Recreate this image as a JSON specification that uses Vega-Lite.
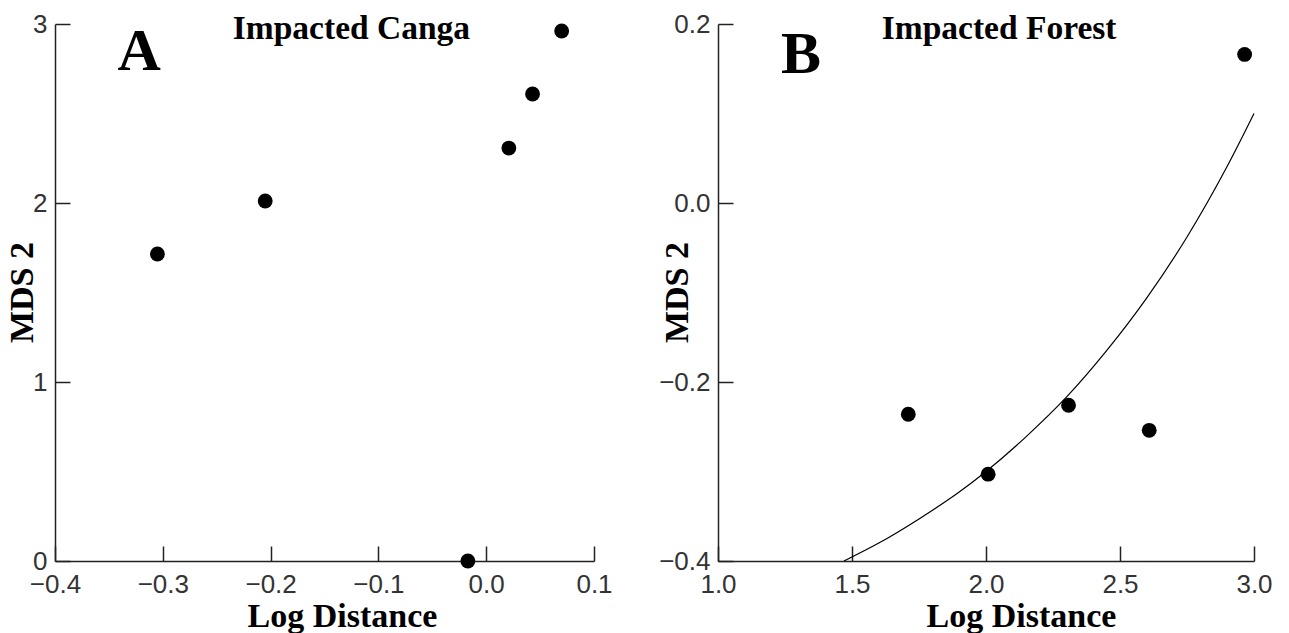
{
  "$schema": "https://vega.github.io/schema/vega-lite/v6.json",
  "background": "white",
  "padding": {"left": 5, "top": 11, "right": 0, "bottom": 0},
  "bounds": "flush",
  "spacing": 124,
  "config": {
    "view": {"stroke": null},
    "axis": {
      "grid": false,
      "domainColor": "#222",
      "domainWidth": 1.5,
      "tickColor": "#222",
      "tickWidth": 1.5,
      "tickSize": -15,
      "labelFont": "Liberation Sans",
      "labelFontSize": 26,
      "labelColor": "#333",
      "labelFlush": false,
      "labelOverlap": false,
      "titleFont": "Liberation Serif",
      "titleFontWeight": "bold",
      "titleFontSize": 34,
      "titleColor": "#000"
    },
    "axisX": {"labelPadding": 25, "titleY": 38, "titleBaseline": "top"},
    "axisY": {"labelPadding": 23, "titleAngle": -90, "titleBaseline": "alphabetic", "titleY": 268}
  },
  "hconcat": [
    {
      "width": 539,
      "height": 537,
      "layer": [
        {
          "data": {"values": [
            {"logDist": -0.305, "mds2": 1.715},
            {"logDist": -0.205, "mds2": 2.011},
            {"logDist": -0.017, "mds2": 0.0},
            {"logDist": 0.021, "mds2": 2.307},
            {"logDist": 0.043, "mds2": 2.609},
            {"logDist": 0.070, "mds2": 2.961}
          ]},
          "mark": {"type": "point", "filled": true, "color": "#000", "size": 220, "opacity": 1},
          "encoding": {
            "x": {"field": "logDist", "type": "quantitative", "scale": {"domain": [-0.4, 0.1], "nice": false, "zero": false},
                  "axis": {"values": [-0.4, -0.3, -0.2, -0.1, 0, 0.1], "format": ".1f", "title": "Log Distance", "titleX": 287}},
            "y": {"field": "mds2", "type": "quantitative", "scale": {"domain": [0, 3], "nice": false},
                  "axis": {"values": [0, 1, 2, 3], "format": "d", "title": "MDS 2", "titleX": -23}}
          }
        },
        {
          "data": {"values": [{"panel": "A", "px": -0.322, "py": 2.743}]},
          "mark": {"type": "text", "font": "Liberation Serif", "fontWeight": "bold", "fontSize": 60, "baseline": "alphabetic", "align": "center", "color": "#000"},
          "encoding": {
            "x": {"field": "px", "type": "quantitative"},
            "y": {"field": "py", "type": "quantitative"},
            "text": {"field": "panel"}
          }
        },
        {
          "data": {"values": [{"label": "Impacted Canga", "px": -0.125, "py": 2.916}]},
          "mark": {"type": "text", "font": "Liberation Serif", "fontWeight": "bold", "fontSize": 33.5, "baseline": "alphabetic", "align": "center", "color": "#000"},
          "encoding": {
            "x": {"field": "px", "type": "quantitative"},
            "y": {"field": "py", "type": "quantitative"},
            "text": {"field": "label"}
          }
        }
      ]
    },
    {
      "width": 536,
      "height": 537,
      "layer": [
        {
          "data": {"values": [
            {"logDist": 1.47, "fit": -0.400},
            {"logDist": 1.6, "fit": -0.380},
            {"logDist": 1.75, "fit": -0.353},
            {"logDist": 1.9, "fit": -0.323},
            {"logDist": 2.0, "fit": -0.300},
            {"logDist": 2.15, "fit": -0.261},
            {"logDist": 2.3, "fit": -0.217},
            {"logDist": 2.45, "fit": -0.165},
            {"logDist": 2.6, "fit": -0.106},
            {"logDist": 2.75, "fit": -0.038},
            {"logDist": 2.9, "fit": 0.041},
            {"logDist": 3.0, "fit": 0.100}
          ]},
          "mark": {"type": "line", "color": "#000", "strokeWidth": 1.2, "interpolate": "monotone"},
          "encoding": {
            "x": {"field": "logDist", "type": "quantitative", "scale": {"domain": [1, 3], "nice": false, "zero": false},
                  "axis": {"values": [1, 1.5, 2, 2.5, 3], "format": ".1f", "title": "Log Distance", "titleX": 303}},
            "y": {"field": "fit", "type": "quantitative", "scale": {"domain": [-0.4, 0.2], "nice": false, "zero": false},
                  "axis": {"values": [-0.4, -0.2, 0, 0.2], "format": ".1f", "title": "MDS 2", "titleX": -31}}
          }
        },
        {
          "data": {"values": [
            {"logDist": 1.710, "mds2": -0.236},
            {"logDist": 2.008, "mds2": -0.303},
            {"logDist": 2.308, "mds2": -0.226},
            {"logDist": 2.609, "mds2": -0.254},
            {"logDist": 2.965, "mds2": 0.166}
          ]},
          "mark": {"type": "point", "filled": true, "color": "#000", "size": 220, "opacity": 1},
          "encoding": {
            "x": {"field": "logDist", "type": "quantitative"},
            "y": {"field": "mds2", "type": "quantitative"}
          }
        },
        {
          "data": {"values": [{"panel": "B", "px": 1.31, "py": 0.145}]},
          "mark": {"type": "text", "font": "Liberation Serif", "fontWeight": "bold", "fontSize": 60, "baseline": "alphabetic", "align": "center", "color": "#000"},
          "encoding": {
            "x": {"field": "px", "type": "quantitative"},
            "y": {"field": "py", "type": "quantitative"},
            "text": {"field": "panel"}
          }
        },
        {
          "data": {"values": [{"label": "Impacted Forest", "px": 2.049, "py": 0.1832}]},
          "mark": {"type": "text", "font": "Liberation Serif", "fontWeight": "bold", "fontSize": 33.5, "baseline": "alphabetic", "align": "center", "color": "#000"},
          "encoding": {
            "x": {"field": "px", "type": "quantitative"},
            "y": {"field": "py", "type": "quantitative"},
            "text": {"field": "label"}
          }
        }
      ]
    }
  ]
}
